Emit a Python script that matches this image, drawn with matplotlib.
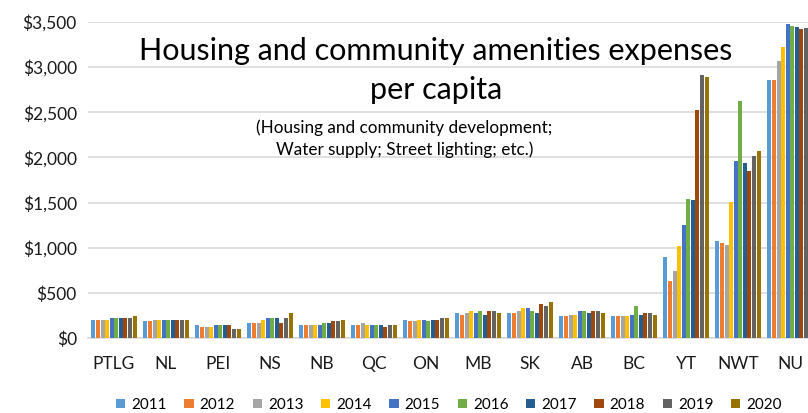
import numpy as np
import matplotlib.pyplot as plt

plt.rcParams['font.family'] = ['Lato', 'DejaVu Sans']

regions = ['PTLG', 'NL', 'PEI', 'NS', 'NB', 'QC', 'ON', 'MB', 'SK', 'AB', 'BC', 'YT', 'NWT', 'NU']
years = ['2011', '2012', '2013', '2014', '2015', '2016', '2017', '2018', '2019', '2020']

# per capita expenses, one list per region, 2011..2020
ptlg = [200, 200, 200, 200, 220, 220, 220, 220, 220, 240]
nl = [185, 185, 200, 200, 200, 200, 200, 200, 200, 200]
pei = [145, 125, 125, 125, 145, 140, 145, 145, 100, 100]
ns = [165, 165, 165, 200, 220, 220, 220, 165, 220, 280]
nb = [145, 145, 145, 145, 145, 165, 165, 185, 185, 200]
qc = [145, 145, 165, 145, 145, 145, 145, 120, 145, 145]
on = [200, 185, 185, 200, 200, 185, 200, 200, 220, 220]
mb = [280, 255, 280, 300, 280, 300, 255, 300, 300, 280]
sk = [280, 280, 300, 335, 335, 300, 280, 375, 355, 395]
ab = [240, 240, 255, 255, 300, 300, 280, 300, 300, 280]
bc = [240, 240, 240, 240, 258, 358, 258, 277, 277, 258]
yt = [900, 630, 740, 1015, 1250, 1545, 1525, 2520, 2910, 2890]
nwt = [1075, 1055, 1035, 1505, 1955, 2620, 1935, 1855, 2015, 2070]
nu = [2855, 2855, 3070, 3225, 3475, 3460, 3440, 3420, 3430, 3430]

colors = ['#5B9BD5', '#ED7D31', '#A5A5A5', '#FFC000', '#4472C4',
          '#70AD47', '#255E91', '#9E480E', '#636363', '#997300']

data = np.array([ptlg, nl, pei, ns, nb, qc, on, mb, sk, ab, bc, yt, nwt, nu])

fig = plt.figure(figsize=(8.08, 4.13), dpi=100)
ax = fig.add_axes([88 / 808, 1 - 338 / 413, 728 / 808, 316 / 413])

x = np.arange(len(regions))
slot = 0.088
w = 0.076
for i, yr in enumerate(years):
    ax.bar(x + (i - 4.5) * slot, data[:, i], w, color=colors[i], label=yr, zorder=3)

ax.set_xlim(-0.5, len(regions) - 0.5)
ax.set_ylim(0, 3500)
ax.set_yticks(np.arange(0, 3501, 500))
ax.set_yticklabels(['${:,}'.format(v) for v in range(0, 3501, 500)])
ax.set_xticks(x)
ax.set_xticklabels(regions)
ax.tick_params(axis='both', length=0, labelsize=12.5, colors='#1a1a1a')
ax.tick_params(axis='x', pad=13)
ax.tick_params(axis='y', pad=8)
ax.grid(axis='y', color='#D9D9D9', linewidth=1.2, zorder=0)
for s in ['top', 'right', 'left']:
    ax.spines[s].set_visible(False)
ax.spines['bottom'].set_color('#D9D9D9')
ax.spines['bottom'].set_linewidth(1.2)

fig.text(436 / 808, 1 - 51 / 413, 'Housing and community amenities expenses',
         ha='center', va='center', fontsize=22)
fig.text(436 / 808, 1 - 90 / 413, 'per capita', ha='center', va='center', fontsize=22)
fig.text(404 / 808, 1 - 128 / 413, '(Housing and community development;',
         ha='center', va='center', fontsize=12.3)
fig.text(405 / 808, 1 - 150 / 413, 'Water supply; Street lighting; etc.)',
         ha='center', va='center', fontsize=12.3)

fig.legend(loc='center', bbox_to_anchor=(449 / 808, 1 - 405 / 413), ncol=10,
           frameon=False, fontsize=11, handlelength=0.6, handleheight=0.6,
           handletextpad=0.4, columnspacing=1.15)

fig.savefig('out.png', dpi=100)
